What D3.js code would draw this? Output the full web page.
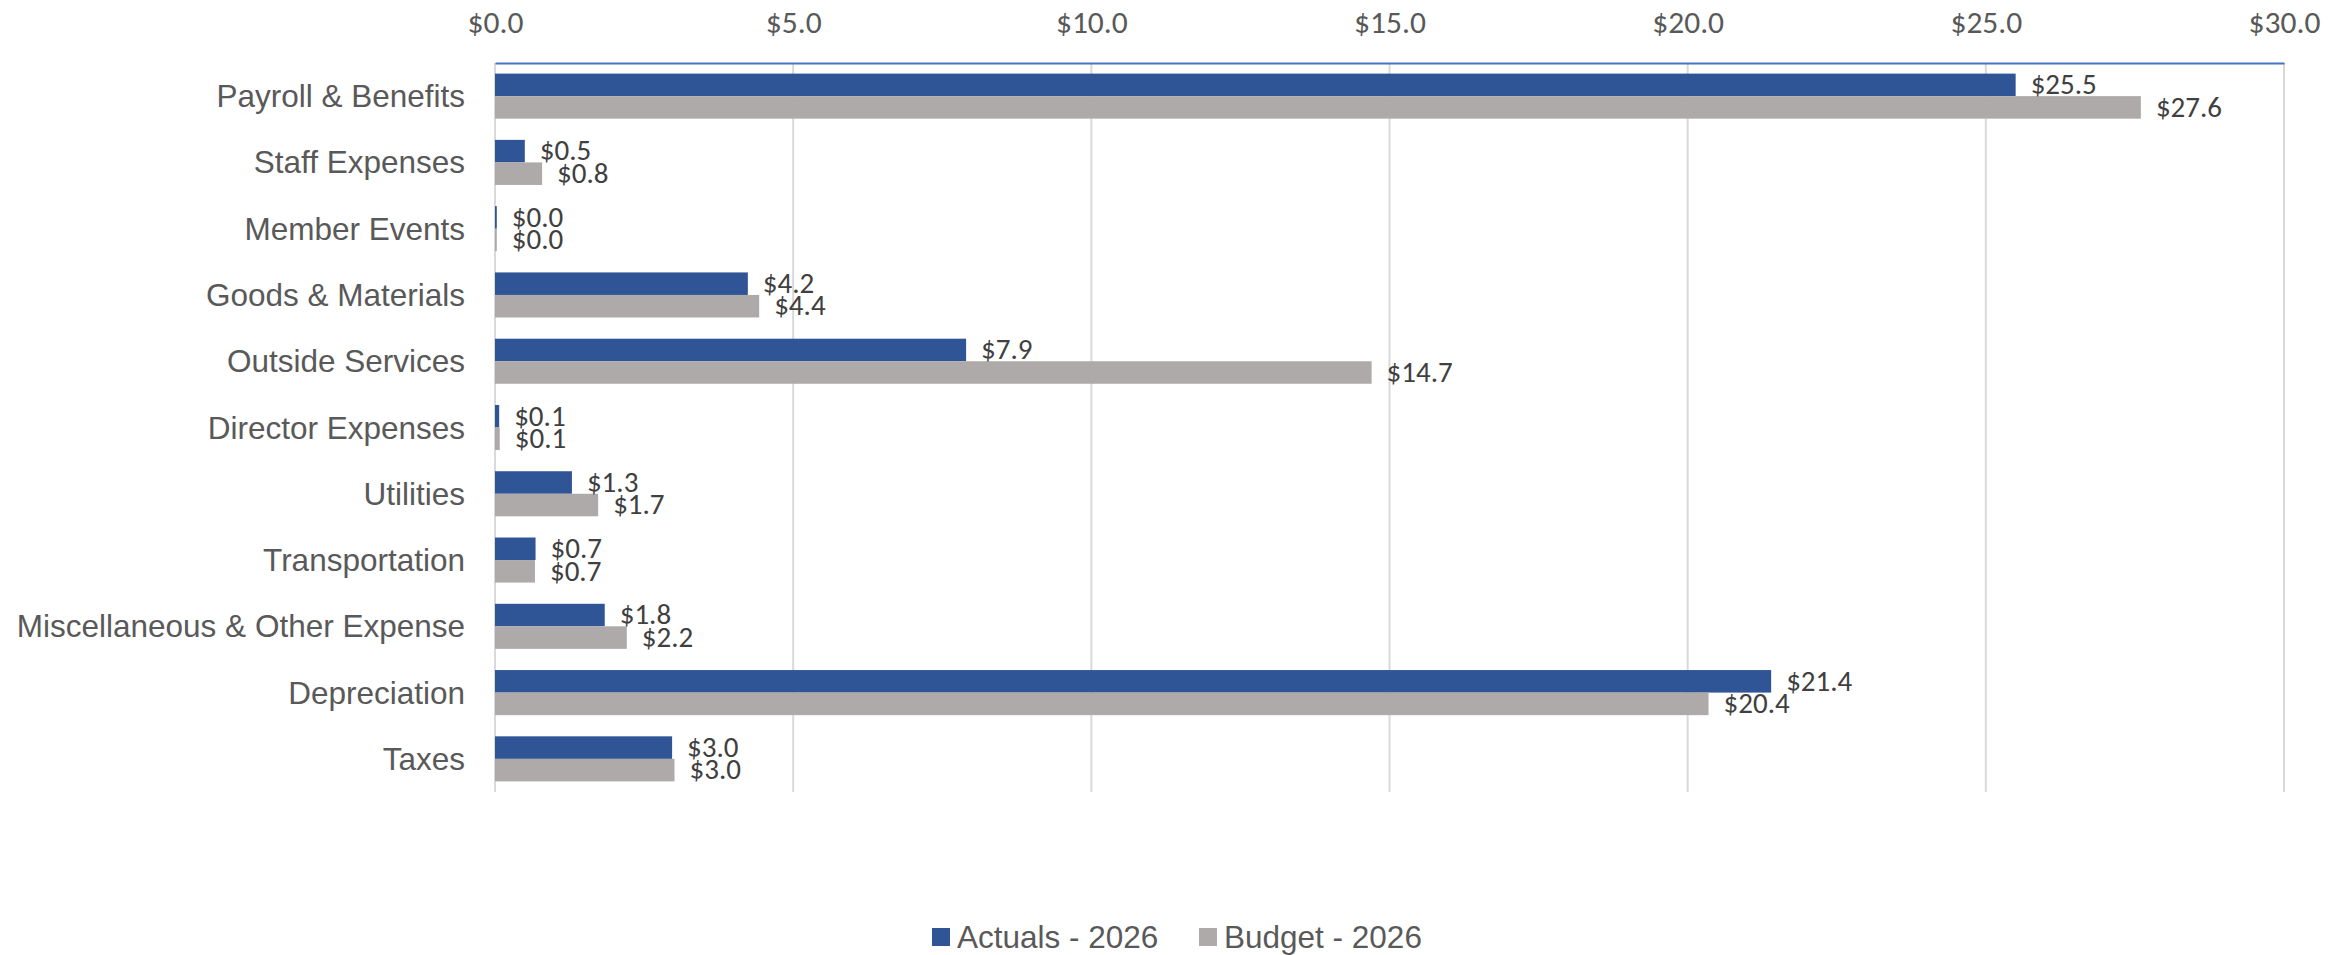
<!DOCTYPE html>
<html>
<head>
<meta charset="utf-8">
<script src="https://cdn.jsdelivr.net/npm/d3@7"></script>
<style>
    body { margin: 0; background: #fff; }
    svg { display: block; }
</style>
</head>
<body>
<svg id="chart" width="2348" height="955"></svg>
<script>
const categories = [
    "Payroll & Benefits",
    "Staff Expenses",
    "Member Events",
    "Goods & Materials",
    "Outside Services",
    "Director Expenses",
    "Utilities",
    "Transportation",
    "Miscellaneous & Other Expense",
    "Depreciation",
    "Taxes",
];
const actuals = [25.5, 0.5, 0.03, 4.24, 7.9, 0.07, 1.29, 0.68, 1.84, 21.4, 2.97];
const budget = [27.6, 0.79, 0.03, 4.43, 14.7, 0.08, 1.73, 0.67, 2.21, 20.35, 3.01];
const seriesNames = ["Actuals - 2026", "Budget - 2026"];
const xTicks = [0, 5, 10, 15, 20, 25, 30];

const colors = ["#2F5597", "#AEAAAA"];
const margin = { top: 63, left: 495, right: 64, bottom: 163 };
const width = 2348, height = 955;
const numFont = "Carlito, Calibri, Lato, sans-serif";
const textFont = "'Liberation Sans', Arial, sans-serif";

const svg = d3.select("#chart");

const x = d3
    .scaleLinear()
    .domain([0, 30])
    .range([margin.left, width - margin.right]);

const y = d3
    .scaleBand()
    .domain(categories)
    .range([margin.top, height - margin.bottom])
    .paddingInner(0.32)
    .paddingOuter(0.16);

const inner = d3
    .scaleBand()
    .domain(seriesNames)
    .range([0, y.bandwidth()]);

const money = (v) => "$" + d3.format(".1f")(v);

// gridlines
svg.append("g")
    .selectAll("line")
    .data(xTicks)
    .join("line")
    .attr("x1", (d) => x(d))
    .attr("x2", (d) => x(d))
    .attr("y1", margin.top)
    .attr("y2", height - margin.bottom)
    .attr("stroke", "#D9D9D9")
    .attr("stroke-width", 2);

// top axis
const xAxis = svg
    .append("g")
    .attr("transform", `translate(0,${margin.top})`)
    .call(d3.axisTop(x).tickValues(xTicks).tickSize(0).tickPadding(0).tickFormat(money));
xAxis.select(".domain").attr("stroke", "#4472C4").attr("stroke-width", 2);
xAxis
    .selectAll("text")
    .attr("y", 23 - margin.top)
    .attr("dy", "0.32em")
    .attr("fill", "#595959")
    .style("font-family", numFont)
    .style("font-size", "31.5px");

// category labels
svg.append("g")
    .selectAll("text")
    .data(categories)
    .join("text")
    .attr("x", margin.left - 30)
    .attr("y", (d) => y(d) + y.bandwidth() / 2)
    .attr("dy", "0.35em")
    .attr("text-anchor", "end")
    .attr("fill", "#595959")
    .style("font-family", textFont)
    .style("font-size", "31.5px")
    .text((d) => d);

const rows = categories.map((c, i) => ({
    category: c,
    values: [actuals[i], budget[i]],
}));

const groups = svg
    .append("g")
    .selectAll("g")
    .data(rows)
    .join("g")
    .attr("transform", (d) => `translate(0,${y(d.category)})`);

groups
    .selectAll("rect")
    .data((d) => d.values.map((v, k) => ({ v, k })))
    .join("rect")
    .attr("x", x(0))
    .attr("y", (d) => inner(seriesNames[d.k]))
    .attr("width", (d) => x(d.v) - x(0))
    .attr("height", inner.bandwidth())
    .attr("fill", (d) => colors[d.k]);

// data labels, Excel style: just past the bar end
groups
    .selectAll("text")
    .data((d) => d.values.map((v, k) => ({ v, k })))
    .join("text")
    .attr("x", (d) => x(d.v) + 15)
    .attr("y", (d) => inner(seriesNames[d.k]) + inner.bandwidth() / 2)
    .attr("dy", "0.32em")
    .attr("fill", "#404040")
    .style("font-family", numFont)
    .style("font-size", "29px")
    .text((d) => money(d.v));

// legend
const legendX = [932, 1199];
const legend = svg
    .append("g")
    .selectAll("g")
    .data(seriesNames)
    .join("g")
    .attr("transform", (d, i) => `translate(${legendX[i]},937)`);

legend
    .append("rect")
    .attr("x", 0)
    .attr("y", -9)
    .attr("width", 18)
    .attr("height", 18)
    .attr("fill", (d, i) => colors[i]);

legend
    .append("text")
    .attr("x", 25)
    .attr("dy", "0.35em")
    .attr("fill", "#595959")
    .style("font-family", textFont)
    .style("font-size", "31.5px")
    .text((d) => d);
</script>
</body>
</html>
